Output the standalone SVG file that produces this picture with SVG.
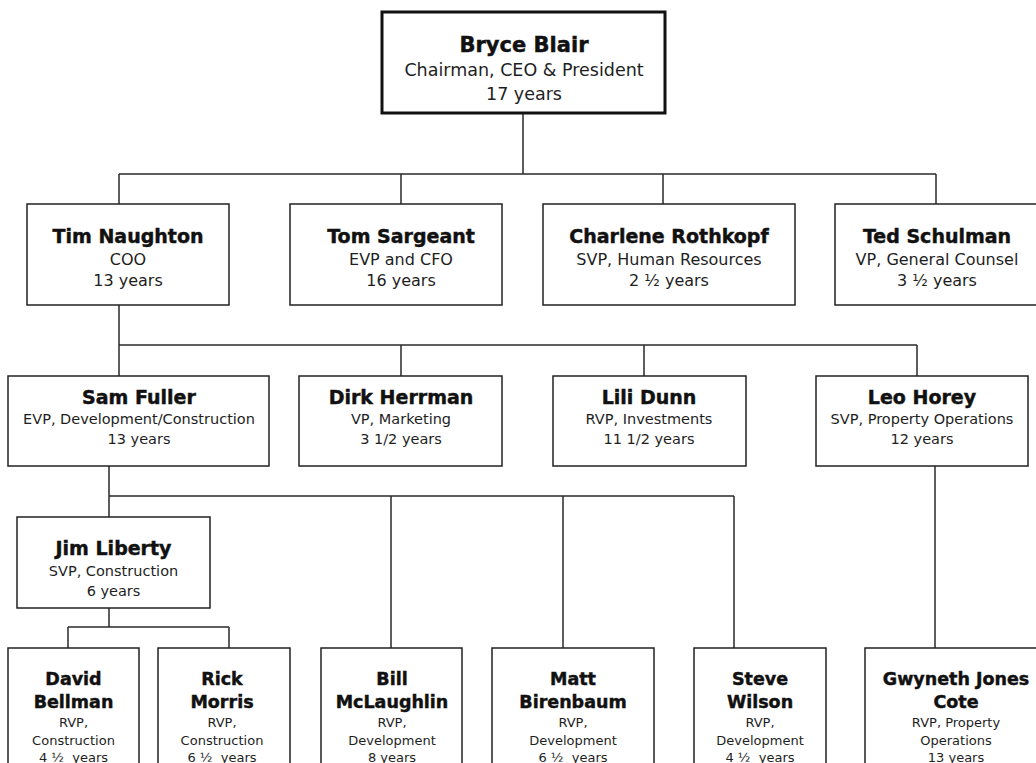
<svg xmlns="http://www.w3.org/2000/svg" width="1036" height="763" viewBox="0 0 1036 763">
<style>
  .box { fill: #ffffff; stroke: #222222; stroke-width: 1.5; }
  .topbox { fill: #ffffff; stroke: #111111; stroke-width: 3; }
  .conn { fill: none; stroke: #2a2a2a; stroke-width: 1.5; }
  text { font-family: "DejaVu Sans", Verdana, sans-serif; text-anchor: middle; }
  .n0, .n1, .n3 { font-weight: bold; fill: #111; stroke: #111; stroke-width: 0.45; }
  .n0 { font-size: 21px; }
  .r0 { font-size: 17.5px; fill: #1e1e1e; }
  .n1 { font-size: 19px; }
  .r1 { font-size: 16px; fill: #1e1e1e; }
  .r2 { font-size: 14.5px; fill: #1e1e1e; }
  .n3 { font-size: 17.5px; }
  .r3 { font-size: 13px; fill: #1e1e1e; }
</style>
<rect width="1036" height="763" fill="#ffffff"/>
<g id="connectors">
  <path class="conn" d="M523 113 V174 M119 174 H936 M119 174 V204 M401 174 V204 M663 174 V204 M936 174 V204"/>
  <path class="conn" d="M119 305 V345 M119 345 H917 M119 345 V376 M401 345 V376 M644 345 V376 M917 345 V376"/>
  <path class="conn" d="M109 466 V496 M109 496 H734 M109 496 V517 M391 496 V648 M563 496 V648 M734 496 V648"/>
  <path class="conn" d="M109 608 V627 M68 627 H229 M68 627 V648 M229 627 V648"/>
  <path class="conn" d="M935 466 V648"/>
</g>
<g id="bryce-blair">
  <rect class="topbox" x="382" y="12" width="283" height="101"/>
  <text class="n0" x="524" y="52">Bryce Blair</text>
  <text class="r0" x="524" y="76">Chairman, CEO &amp; President</text>
  <text class="r0" x="524" y="100">17 years</text>
</g>
<g id="tim-naughton">
  <rect class="box" x="27" y="204" width="202" height="101"/>
  <text class="n1" x="128" y="243">Tim Naughton</text>
  <text class="r1" x="128" y="265">COO</text>
  <text class="r1" x="128" y="286">13 years</text>
</g>
<g id="tom-sargeant">
  <rect class="box" x="290" y="204" width="212" height="101"/>
  <text class="n1" x="401" y="243">Tom Sargeant</text>
  <text class="r1" x="401" y="265">EVP and CFO</text>
  <text class="r1" x="401" y="286">16 years</text>
</g>
<g id="charlene-rothkopf">
  <rect class="box" x="543" y="204" width="252" height="101"/>
  <text class="n1" x="669" y="243">Charlene Rothkopf</text>
  <text class="r1" x="669" y="265">SVP, Human Resources</text>
  <text class="r1" x="669" y="286">2 ½ years</text>
</g>
<g id="ted-schulman">
  <rect class="box" x="835" y="204" width="203" height="101"/>
  <text class="n1" x="937" y="243">Ted Schulman</text>
  <text class="r1" x="937" y="265">VP, General Counsel</text>
  <text class="r1" x="937" y="286">3 ½ years</text>
</g>
<g id="sam-fuller">
  <rect class="box" x="8" y="376" width="261" height="90"/>
  <text class="n1" x="139" y="404">Sam Fuller</text>
  <text class="r2" x="139" y="424">EVP, Development/Construction</text>
  <text class="r2" x="139" y="444">13 years</text>
</g>
<g id="dirk-herrman">
  <rect class="box" x="299" y="376" width="203" height="90"/>
  <text class="n1" x="401" y="404">Dirk Herrman</text>
  <text class="r2" x="401" y="424">VP, Marketing</text>
  <text class="r2" x="401" y="444">3 1/2 years</text>
</g>
<g id="lili-dunn">
  <rect class="box" x="553" y="376" width="193" height="90"/>
  <text class="n1" x="649" y="404">Lili Dunn</text>
  <text class="r2" x="649" y="424">RVP, Investments</text>
  <text class="r2" x="649" y="444">11 1/2 years</text>
</g>
<g id="leo-horey">
  <rect class="box" x="816" y="376" width="212" height="90"/>
  <text class="n1" x="922" y="404">Leo Horey</text>
  <text class="r2" x="922" y="424">SVP, Property Operations</text>
  <text class="r2" x="922" y="444">12 years</text>
</g>
<g id="jim-liberty">
  <rect class="box" x="17" y="517" width="193" height="91"/>
  <text class="n1" x="113.5" y="555">Jim Liberty</text>
  <text class="r2" x="113.5" y="576">SVP, Construction</text>
  <text class="r2" x="113.5" y="596">6 years</text>
</g>
<g id="david-bellman">
  <rect class="box" x="8" y="648" width="131" height="130"/>
  <text class="n3" x="73.5" y="685">David</text>
  <text class="n3" x="73.5" y="708">Bellman</text>
  <text class="r3" x="73.5" y="727">RVP,</text>
  <text class="r3" x="73.5" y="745">Construction</text>
  <text class="r3" x="73.5" y="762" xml:space="preserve">4 ½  years</text>
</g>
<g id="rick-morris">
  <rect class="box" x="158" y="648" width="132" height="130"/>
  <text class="n3" x="222" y="685">Rick</text>
  <text class="n3" x="222" y="708">Morris</text>
  <text class="r3" x="222" y="727">RVP,</text>
  <text class="r3" x="222" y="745">Construction</text>
  <text class="r3" x="222" y="762" xml:space="preserve">6 ½  years</text>
</g>
<g id="bill-mclaughlin">
  <rect class="box" x="321" y="648" width="141" height="130"/>
  <text class="n3" x="392" y="685">Bill</text>
  <text class="n3" x="392" y="708">McLaughlin</text>
  <text class="r3" x="392" y="727">RVP,</text>
  <text class="r3" x="392" y="745">Development</text>
  <text class="r3" x="392" y="762">8 years</text>
</g>
<g id="matt-birenbaum">
  <rect class="box" x="492" y="648" width="162" height="130"/>
  <text class="n3" x="573" y="685">Matt</text>
  <text class="n3" x="573" y="708">Birenbaum</text>
  <text class="r3" x="573" y="727">RVP,</text>
  <text class="r3" x="573" y="745">Development</text>
  <text class="r3" x="573" y="762" xml:space="preserve">6 ½  years</text>
</g>
<g id="steve-wilson">
  <rect class="box" x="694" y="648" width="132" height="130"/>
  <text class="n3" x="760" y="685">Steve</text>
  <text class="n3" x="760" y="708">Wilson</text>
  <text class="r3" x="760" y="727">RVP,</text>
  <text class="r3" x="760" y="745">Development</text>
  <text class="r3" x="760" y="762" xml:space="preserve">4 ½  years</text>
</g>
<g id="gwyneth-jones-cote">
  <rect class="box" x="865" y="648" width="182" height="130"/>
  <text class="n3" x="956" y="685">Gwyneth Jones</text>
  <text class="n3" x="956" y="708">Cote</text>
  <text class="r3" x="956" y="727">RVP, Property</text>
  <text class="r3" x="956" y="745">Operations</text>
  <text class="r3" x="956" y="762">13 years</text>
</g>
</svg>
